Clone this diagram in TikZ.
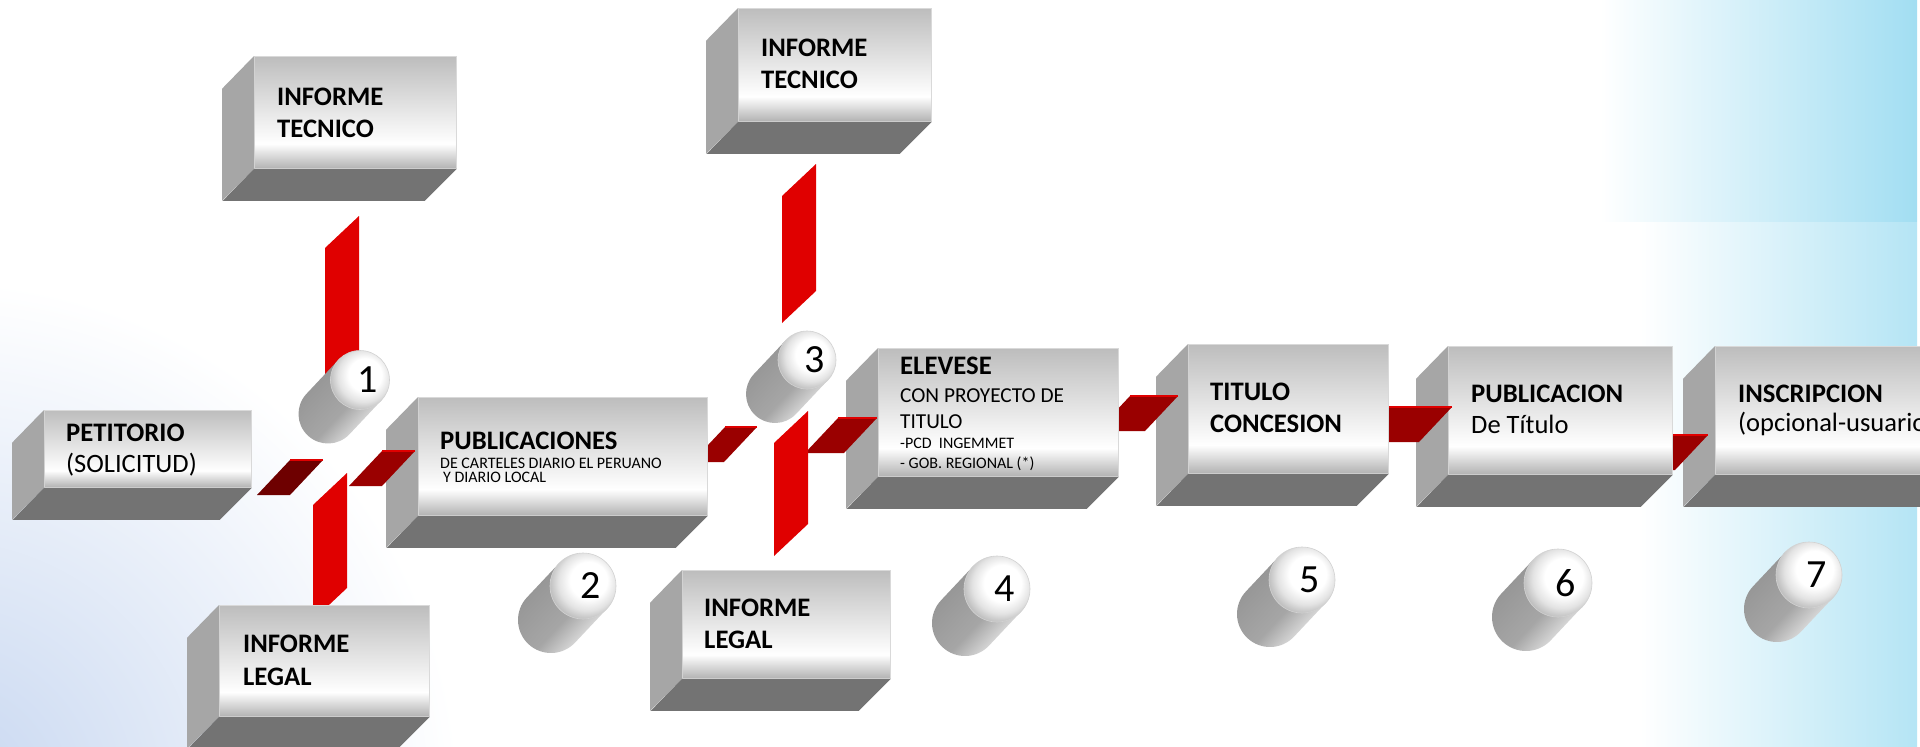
\documentclass[tikz,border=0pt]{standalone}
\usepackage{fontspec}
\setmainfont{Carlito}
\usetikzlibrary{calc}

\definecolor{facetop}{HTML}{BDBDBD}
\definecolor{facebot}{HTML}{B2B2B2}
\definecolor{slabside}{HTML}{A6A6A6}
\definecolor{slabfloor}{HTML}{737373}
\definecolor{barred}{HTML}{E00000}
\definecolor{stripred}{HTML}{9A0000}
\definecolor{stripdark}{HTML}{6E0000}
\definecolor{skyblue}{HTML}{A2DEF2}
\definecolor{paleblue}{HTML}{C6D6F0}

\pgfdeclareverticalshading{slabface}{100bp}{color(0bp)=(facebot); color(25bp)=(facebot); color(36bp)=(white); color(75bp)=(facetop); color(100bp)=(facetop)}
\pgfdeclareradialshading{pillface}{\pgfpoint{6bp}{6bp}}{color(0bp)=(white); color(14bp)=(white); color(22bp)=(gray!22); color(28bp)=(gray!50); color(50bp)=(gray!50)}
\pgfdeclarehorizontalshading{pillbody}{100bp}{color(0bp)=(gray!85); color(25bp)=(gray!85); color(55bp)=(gray!70); color(68bp)=(gray!32); color(75bp)=(gray!55); color(100bp)=(gray!55)}

\newcommand\slab[5]{%
  \node[slabfront, minimum width={(#4-#2)*1pt}, minimum height={(#5-#3)*1pt}] (#1) at (#2,#3) {};
  \fill[slabside] (#1.north west) -- (#1.south west) -- ++(-32,32) -- ++(0,{#3-#5}) -- cycle;
  \fill[slabfloor] (#1.south west) -- (#1.south east) -- ++(-32,32) -- ++({#2-#4},0) -- cycle;
}
\newcommand\strip[4]{%
  \fill[#4] (#1,#2) -- ++(#3,0) -- ++(-33,35) -- ++(-#3,0) -- cycle;
  \draw[barred, line width=1.5pt] (#1,#2) -- ++(#3,0);
}
\newcommand\redbar[3]{%
  \fill[barred] (#1,#2) -- ++(34,-32) -- ++(0,#3) -- ++(-34,32) -- cycle;
}
\newcommand\pill[5]{%
  \coordinate (#1) at (#2,#3);
  \shade[shading=pillbody, shading angle=-43.3]
    ($(#1)+(43.3:#4)$) -- ($(#1)+(-32,34)+(43.3:#4)$)
    arc[start angle=43.3, end angle=223.3, radius=#4] -- ($(#1)+(223.3:#4)$) -- cycle;
  \shade[shading=pillface, draw=gray!35, line width=0.6pt] (#1) circle[radius=#4];
  \node[pillnum] (#1-n) at ($(#1)+(8,0)$) {#5};
}

\begin{document}
\begin{tikzpicture}[x=1pt, y=-1pt,
  slabfront/.style={anchor=north west, shade, shading=slabface, draw=gray!30, line width=0.8pt, inner sep=0},
  ttl/.style={anchor=base west, inner sep=0, font=\fontsize{26.7}{32}\selectfont\bfseries},
  sub/.style={anchor=base west, inner sep=0, font=\fontsize{26.5}{32}\selectfont},
  mid/.style={anchor=base west, inner sep=0, font=\fontsize{21.3}{25}\selectfont},
  small/.style={anchor=base west, inner sep=0, font=\fontsize{16}{19}\selectfont},
  pillnum/.style={inner sep=0, font=\fontsize{40}{48}\selectfont}]
  \useasboundingbox (0,0) rectangle (1920,747);
  \clip (0,0) rectangle (1920,747);

  \fill[white] (0,0) rectangle (1920,747);
  \shade[left color=white, right color=skyblue] (1600,0) rectangle (1917,221);
  \shade[left color=white, right color=skyblue!80] (1640,222) rectangle (1917,747);
  \shade[inner color=paleblue, outer color=white] (-60,800) circle[radius=520];

  \slab{insc}{1715}{346}{1960}{474}
  \node[ttl] (insc-a) at ($(insc.north west)+(23,56)$) {INSCRIPCION};
  \node[sub] (insc-b) at ($(insc.north west)+(23,85)$) {(opcional-usuario)};
  \strip{1640}{435}{68}{stripred}

  \slab{publ}{1448}{346}{1672}{474}
  \node[ttl] (publ-a) at ($(publ.north west)+(23,56)$) {PUBLICACION};
  \node[sub] (publ-b) at ($(publ.north west)+(23,87)$) {De Título};
  \strip{1360}{407}{92}{stripred}

  \slab{titu}{1188}{344}{1388}{473}
  \node[ttl] (titu-a) at ($(titu.north west)+(22,56)$) {TITULO};
  \node[ttl] (titu-b) at ($(titu.north west)+(22,88)$) {CONCESION};
  \strip{1130}{396}{48}{stripred}

  \slab{elev}{878}{348}{1118}{476}
  \node[ttl] (elev-a) at ($(elev.north west)+(22,26)$) {ELEVESE};
  \node[mid] (elev-b) at ($(elev.north west)+(22,54)$) {CON PROYECTO DE};
  \node[mid] (elev-c) at ($(elev.north west)+(22,80)$) {TITULO};
  \node[small] (elev-d) at ($(elev.north west)+(22,100)$) {-PCD\ \ INGEMMET};
  \node[small] (elev-e) at ($(elev.north west)+(22,120)$) {- GOB. REGIONAL (*)};
  \strip{838}{418}{39}{stripred}
  \redbar{774}{443}{113}
  \strip{725}{427}{32}{stripred}

  \slab{pubs}{418}{397}{707}{515}
  \node[ttl] (pubs-a) at ($(pubs.north west)+(22,52)$) {PUBLICACIONES};
  \node[small] (pubs-b) at ($(pubs.north west)+(22,71)$) {DE CARTELES DIARIO EL PERUANO};
  \node[small] (pubs-c) at ($(pubs.north west)+(25,85)$) {Y DIARIO LOCAL};
  \strip{382}{451}{33}{stripred}
  \strip{290}{460}{33}{stripdark}

  \slab{peti}{44}{410}{251}{487}
  \node[ttl] (peti-a) at ($(peti.north west)+(22,31)$) {PETITORIO};
  \node[sub] (peti-b) at ($(peti.north west)+(22,62)$) {(SOLICITUD)};

  \redbar{313}{505}{115}
  \slab{legA}{219}{605}{429}{716}
  \node[ttl] (legA-a) at ($(legA.north west)+(24,47)$) {INFORME};
  \node[ttl] (legA-b) at ($(legA.north west)+(24,80)$) {LEGAL};

  \slab{legB}{682}{570}{890}{678}
  \node[ttl] (legB-a) at ($(legB.north west)+(22,46)$) {INFORME};
  \node[ttl] (legB-b) at ($(legB.north west)+(22,78)$) {LEGAL};

  \slab{tecA}{254}{56}{456}{168}
  \node[ttl] (tecA-a) at ($(tecA.north west)+(23,49)$) {INFORME};
  \node[ttl] (tecA-b) at ($(tecA.north west)+(23,81)$) {TECNICO};

  \slab{tecB}{738}{8}{931}{121}
  \node[ttl] (tecB-a) at ($(tecB.north west)+(23,48)$) {INFORME};
  \node[ttl] (tecB-b) at ($(tecB.north west)+(23,80)$) {TECNICO};

  \redbar{325}{248}{152}
  \redbar{782}{196}{127}

  \pill{p1}{360}{380}{29.5}{1}
  \pill{p2}{583}{586}{33}{2}
  \pill{p3}{807}{360}{29}{3}
  \pill{p4}{997}{589}{33}{4}
  \pill{p5}{1302}{580}{33}{5}
  \pill{p6}{1558}{583}{34}{6}
  \pill{p7}{1809}{575}{33}{7}
\end{tikzpicture}
\end{document}
